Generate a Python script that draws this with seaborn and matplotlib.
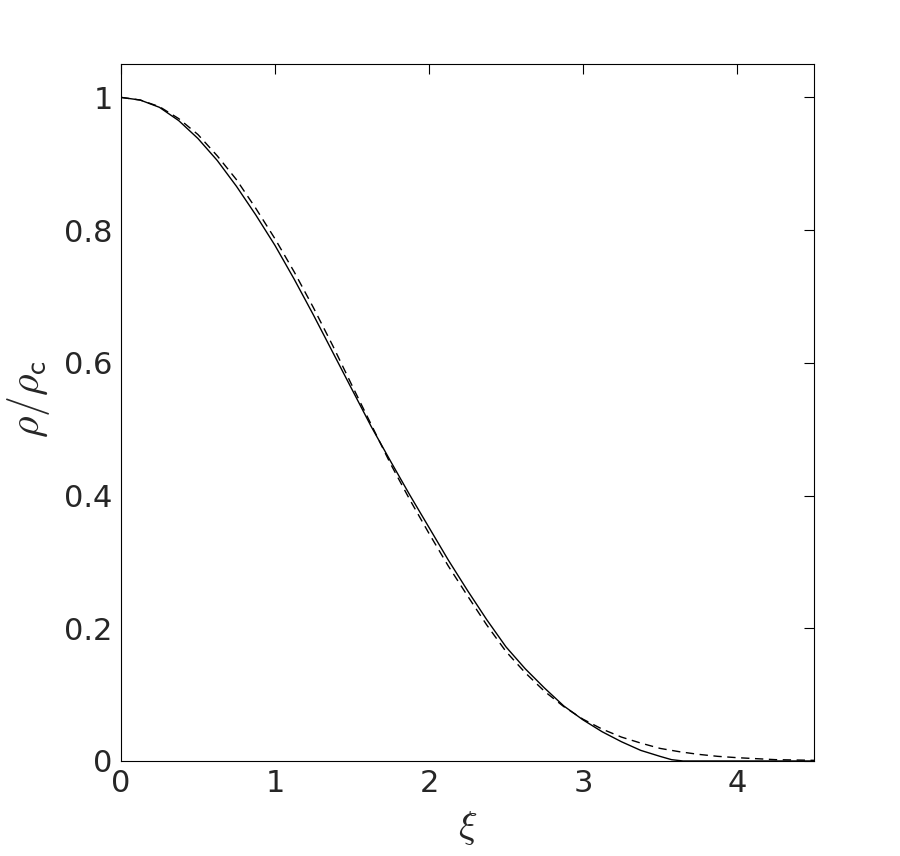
# density profile: solid and dashed curves
import numpy as np
import pandas as pd
import matplotlib
matplotlib.use("Agg")
import matplotlib.pyplot as plt
import seaborn as sns

# values
xi_solid = [0, 0.125, 0.25, 0.375, 0.5, 0.625, 0.75, 0.875, 1.0, 1.125, 1.25, 1.375,
            1.5, 1.625, 1.75, 1.875, 2.0, 2.125, 2.25, 2.375, 2.5, 2.625, 2.75, 2.875,
            3.0, 3.125, 3.25, 3.375, 3.5, 3.575, 3.65, 4.5]
rho_solid = [1.0, 0.996, 0.985, 0.965, 0.938, 0.905, 0.866, 0.823, 0.777, 0.726, 0.672, 0.616,
             0.560, 0.504, 0.452, 0.401, 0.352, 0.303, 0.257, 0.213, 0.172, 0.139, 0.110, 0.083,
             0.062, 0.044, 0.029, 0.016, 0.007, 0.002, 0.0, 0.0]

xi_dashed = [0, 0.125, 0.25, 0.375, 0.5, 0.625, 0.75, 0.875, 1.0, 1.125, 1.25, 1.375,
             1.5, 1.625, 1.75, 1.875, 2.0, 2.125, 2.25, 2.375, 2.5, 2.625, 2.75, 2.875,
             3.0, 3.125, 3.25, 3.375, 3.5, 3.625, 3.75, 3.875, 4.0, 4.25, 4.5]
rho_dashed = [1.0, 0.996, 0.986, 0.968, 0.944, 0.912, 0.876, 0.833, 0.787, 0.737, 0.683, 0.626,
              0.566, 0.507, 0.448, 0.394, 0.343, 0.294, 0.249, 0.205, 0.165, 0.133, 0.105, 0.082,
              0.063, 0.048, 0.036, 0.027, 0.019, 0.014, 0.010, 0.007, 0.005, 0.002, 0.001]

x_ticks = [0, 1, 2, 3, 4]
y_ticks = [0, 0.2, 0.4, 0.6, 0.8, 1]
y_tick_labels = ["0", "0.2", "0.4", "0.6", "0.8", "1"]

solid = pd.DataFrame({"xi": xi_solid, "rho": rho_solid})
dashed = pd.DataFrame({"xi": xi_dashed, "rho": rho_dashed})

sns.set_style("white")
plt.rcParams["font.family"] = ["DejaVu Sans"]
plt.rcParams["mathtext.fontset"] = "cm"

fig = plt.figure(figsize=(9, 8.56), dpi=100)
ax = fig.add_axes([0.1344, 0.111, 0.77, 0.814])

sns.lineplot(data=solid, x="xi", y="rho", ax=ax, color="black", linewidth=1.0)
sns.lineplot(data=dashed, x="xi", y="rho", ax=ax, color="black", linewidth=1.0,
             linestyle=(0, (6, 4)))

ax.set_xlim(0, 4.5)
ax.set_ylim(0, 1.05)
ax.set_xticks(x_ticks)
ax.set_yticks(y_ticks)
ax.set_yticklabels(y_tick_labels)

ax.tick_params(direction="in", length=7, width=0.8, top=True, right=True,
               labelsize=22, labelcolor="#262626", color="black", pad=6)
for s in ax.spines.values():
    s.set_color("black")
    s.set_linewidth(0.8)

ax.set_xlabel(r"$\xi$", fontsize=28, color="#262626", labelpad=8)
ax.set_ylabel(r"$\rho/\rho_{\mathsf{c}}$", fontsize=30, color="#262626", labelpad=6)
ax.yaxis.set_label_coords(-0.1, 0.52)

fig.savefig("out.png", dpi=100)
